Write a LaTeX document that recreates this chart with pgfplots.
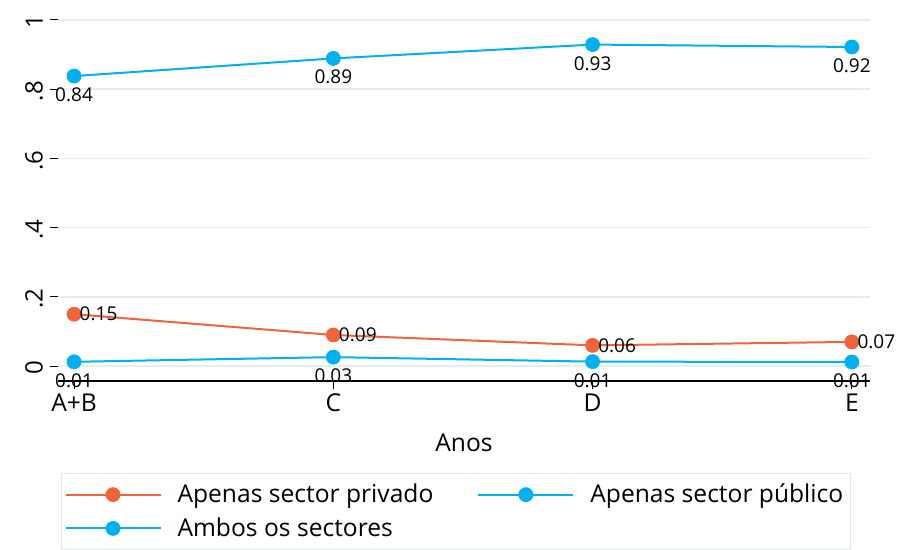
\documentclass[border=0pt]{standalone}
\usepackage{fontspec}
\setmainfont{Open Sans}
\usepackage{pgfplots}
\pgfplotsset{compat=1.18}
\definecolor{cy}{RGB}{0,176,240}
\definecolor{orng}{RGB}{240,100,60}
\definecolor{grd}{RGB}{226,239,241}
\definecolor{lgf}{RGB}{218,234,237}
\begin{document}
\begin{tikzpicture}
\begin{axis}[
  name=ax,
  scale only axis,
  width=406pt, height=185.7pt,
  xmin=-0.062, xmax=3.07,
  ymin=-0.043, ymax=1.03,
  xtick={0,1,2,3},
  xticklabels={A+B,C,D,E},
  ytick={0,0.2,0.4,0.6,0.8,1},
  yticklabels={0,.2,.4,.6,.8,1},
  axis x line*=bottom,
  axis y line*=left,
  y axis line style={draw=none},
  x axis line style={black, line width=0.65pt},
  tick align=outside,
  major tick length=4pt,
  tick style={black, line width=0.5pt},
  ymajorgrids,
  grid style={grd, line width=0.8pt},
  yticklabel style={rotate=90, anchor=south, font=\fontsize{12}{14}\selectfont, xshift=-1pt},
  xticklabel style={font=\fontsize{12.3}{14}\selectfont, yshift=1pt},
  xlabel={Anos},
  xlabel style={font=\fontsize{12.3}{14}\selectfont, yshift=-4pt},
  legend columns=2,
  legend cell align=left,
  legend style={at={(axis description cs:0.49,-0.248)}, anchor=north,
    draw=lgf, line width=0.6pt, font=\fontsize{12.3}{14}\selectfont,
    inner xsep=1.5pt, inner ysep=3pt,
    /tikz/every odd column/.append style={column sep=6pt},
    /tikz/every even column/.append style={column sep=20pt},
    row sep=2pt},
  legend image code/.code={\draw[mark repeat=2,mark phase=2,#1] plot coordinates {(0pt,0pt)(23.75pt,0pt)(47.5pt,0pt)};},
  every axis plot/.append style={line width=1pt, mark=*, mark size=3.2pt},
  nodes near coords,
  point meta=explicit symbolic,
  every node near coord/.append style={font=\fontsize{9.5}{11}\selectfont, text=black},
]
\addplot[color=orng, mark options={fill=orng, draw=orng},
  nodes near coords style={anchor=west, xshift=-1pt}]
  coordinates {(0,0.15)[0.15] (1,0.09)[0.09] (2,0.06)[0.06] (3,0.07)[0.07]};
\addlegendentry{Apenas sector privado}
\addplot[color=cy, mark options={fill=cy, draw=cy},
  nodes near coords style={anchor=north, yshift=-2pt}]
  coordinates {(0,0.0125)[0.01] (1,0.026)[0.03] (2,0.013)[0.01] (3,0.012)[0.01]};
\addlegendentry{Apenas sector público}
\addplot[color=cy, mark options={fill=cy, draw=cy},
  nodes near coords style={anchor=north, yshift=-2pt}]
  coordinates {(0,0.838)[0.84] (1,0.889)[0.89] (2,0.929)[0.93] (3,0.922)[0.92]};
\addlegendentry{Ambos os sectores}
\end{axis}
\path[use as bounding box] ([xshift=-29pt,yshift=-83.5pt]ax.south west) rectangle ([xshift=424pt,yshift=190.5pt]ax.south west);
\end{tikzpicture}
\end{document}
